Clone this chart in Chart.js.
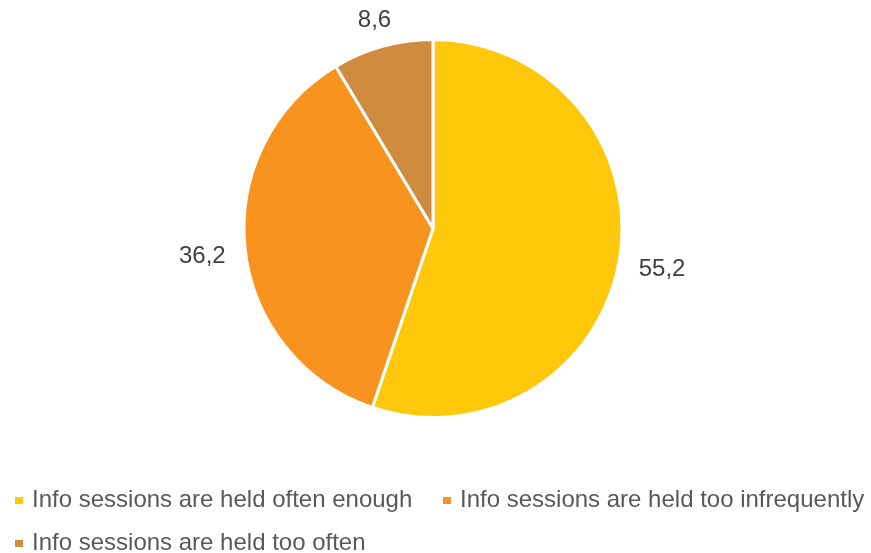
<!DOCTYPE html>
<html>
<head>
<meta charset="utf-8">
<script src="https://cdn.jsdelivr.net/npm/chart.js@4/dist/chart.umd.min.js"></script>
<style>
  html, body { margin: 0; padding: 0; background: #ffffff; }
  #wrap { position: relative; width: 871px; height: 553px; overflow: hidden; }
  #c { position: absolute; left: 0; top: 0; }
  .lg { position: absolute; font-family: "Liberation Sans", Arial, sans-serif; font-size: 24px; line-height: 24px; color: #595959; white-space: nowrap; }
  .lg .box { position: absolute; width: 8px; height: 7px; }
  .lg .txt { position: absolute; }
</style>
</head>
<body>
<div id="wrap">
  <canvas id="c" width="871" height="553"></canvas>
  <div id="legend"></div>
</div>
<script>
const categories = [
  "Info sessions are held often enough",
  "Info sessions are held too infrequently",
  "Info sessions are held too often"
];
const values = [55.2, 36.2, 8.6];
const valueLabels = ["55,2", "36,2", "8,6"];
const colors = ["#FFC80A", "#F7931E", "#CF8B3E"];

const labelPlugin = {
  id: 'outsideLabels',
  afterDatasetsDraw(chart) {
    const ctx = chart.ctx;
    const meta = chart.getDatasetMeta(0);
    ctx.save();
    ctx.font = '24px "Liberation Sans", Arial, sans-serif';
    ctx.fillStyle = '#404040';
    ctx.textAlign = 'center';
    ctx.textBaseline = 'middle';
    meta.data.forEach((arc, i) => {
      const p = arc.getProps(['x', 'y', 'startAngle', 'endAngle', 'outerRadius'], true);
      const mid = (p.startAngle + p.endAngle) / 2;
      const c = Math.cos(mid), s = Math.sin(mid);
      const txt = valueLabels[i];
      const w = ctx.measureText(txt).width;
      const h = 14;
      const d = p.outerRadius + 19 + Math.abs(c) * w / 2 + Math.abs(s) * h / 2;
      ctx.fillText(txt, p.x + c * d, p.y + s * d + 3);
    });
    ctx.restore();
  }
};

const chart = new Chart(document.getElementById('c'), {
  type: 'pie',
  data: {
    labels: categories,
    datasets: [{
      data: values,
      backgroundColor: colors,
      borderColor: '#ffffff',
      borderWidth: 3
    }]
  },
  options: {
    responsive: false,
    animation: false,
    layout: { padding: { left: 0, right: 5, top: 38, bottom: 134 } },
    plugins: {
      legend: { display: false },
      tooltip: { enabled: false }
    }
  },
  plugins: [labelPlugin]
});

// HTML legend built from the chart's own legend items
const items = chart.options.plugins.legend.labels.generateLabels(chart);
const pos = [
  { x: 15, y: 487, by: 10 },
  { x: 443, y: 487, by: 10 },
  { x: 15, y: 530, by: 10 }
];
const lg = document.getElementById('legend');
items.forEach((it, i) => {
  const d = document.createElement('div');
  d.className = 'lg';
  d.style.left = pos[i].x + 'px';
  d.style.top = pos[i].y + 'px';
  const b = document.createElement('span');
  b.className = 'box';
  b.style.left = '0px';
  b.style.top = pos[i].by + 'px';
  b.style.background = it.fillStyle;
  const t = document.createElement('span');
  t.className = 'txt';
  t.style.left = '17px';
  t.style.top = '0px';
  t.textContent = it.text;
  d.appendChild(b);
  d.appendChild(t);
  lg.appendChild(d);
});
</script>
</body>
</html>
